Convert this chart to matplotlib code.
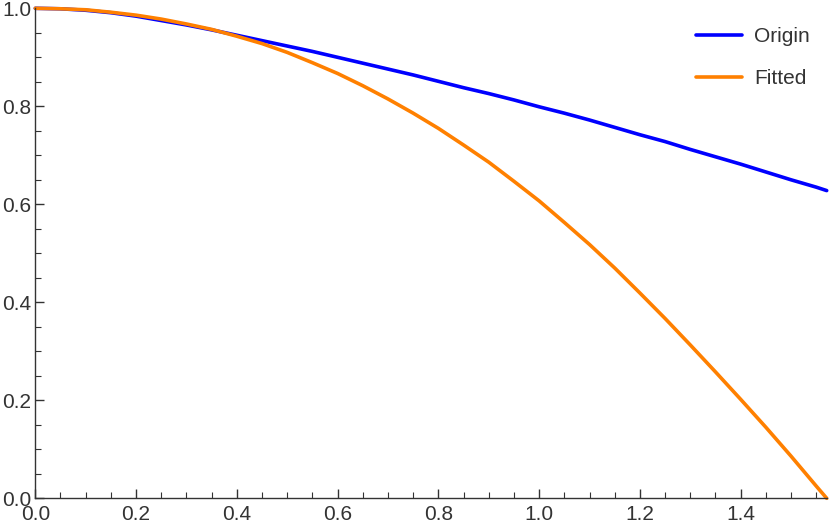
import numpy as np
import matplotlib
matplotlib.use('Agg')
import matplotlib.pyplot as plt
from matplotlib.ticker import MultipleLocator

plt.rcParams['font.family'] = ['Liberation Sans', 'DejaVu Sans']

# values (every 0.05 in x, last point at pi/2)
x_vals = [0.00, 0.05, 0.10, 0.15, 0.20, 0.25, 0.30, 0.35, 0.40, 0.45,
          0.50, 0.55, 0.60, 0.65, 0.70, 0.75, 0.80, 0.85, 0.90, 0.95,
          1.00, 1.05, 1.10, 1.15, 1.20, 1.25, 1.30, 1.35, 1.40, 1.45,
          1.50, 1.55, 1.5708]
origin_vals = [1.000, 0.999, 0.996, 0.991, 0.984, 0.975, 0.966, 0.956, 0.945, 0.934,
               0.923, 0.912, 0.900, 0.888, 0.876, 0.864, 0.851, 0.838, 0.826, 0.813,
               0.799, 0.786, 0.772, 0.757, 0.742, 0.728, 0.712, 0.697, 0.682, 0.666,
               0.650, 0.635, 0.628]
fitted_vals = [1.000, 0.999, 0.997, 0.992, 0.986, 0.978, 0.968, 0.957, 0.943, 0.928,
               0.910, 0.889, 0.867, 0.842, 0.815, 0.786, 0.755, 0.721, 0.686, 0.647,
               0.607, 0.563, 0.518, 0.470, 0.419, 0.367, 0.313, 0.258, 0.202, 0.145,
               0.086, 0.025, 0.000]
series_names = ['Origin', 'Fitted']
series_colors = ['#0000ff', '#ff8000']

x_ticks = [0.0, 0.2, 0.4, 0.6, 0.8, 1.0, 1.2, 1.4]
y_ticks = [0.0, 0.2, 0.4, 0.6, 0.8, 1.0]

gray = '#333333'

fig = plt.figure(figsize=(8.3, 5.27), dpi=100)
ax = fig.add_axes([35.3 / 830, 1 - 498.3 / 527, 791.4 / 830, 490 / 527])

for vals, name, col in zip([origin_vals, fitted_vals], series_names, series_colors):
    ax.plot(x_vals, vals, color=col, lw=2.6, label=name, solid_capstyle='round',
            solid_joinstyle='round', clip_on=False)

ax.set_xlim(0, x_vals[-1])
ax.set_ylim(0, 1)

for s in ['top', 'right']:
    ax.spines[s].set_visible(False)
for s in ['left', 'bottom']:
    ax.spines[s].set_color(gray)
    ax.spines[s].set_linewidth(1.0)

ax.set_xticks(x_ticks)
ax.set_yticks(y_ticks)
ax.set_xticklabels(['%.1f' % t for t in x_ticks])
ax.set_yticklabels(['%.1f' % t for t in y_ticks])
ax.xaxis.set_minor_locator(MultipleLocator(0.05))
ax.yaxis.set_minor_locator(MultipleLocator(0.05))
ax.tick_params(which='major', direction='in', length=6.7, width=1.0, color=gray,
               labelsize=15, labelcolor=gray, pad=3)
ax.tick_params(axis='x', which='major', pad=4.5)
ax.tick_params(which='minor', direction='in', length=4, width=0.8, color=gray)

leg = ax.legend(loc='upper right', bbox_to_anchor=(810 / 830, 1 - 27 / 527),
                bbox_transform=fig.transFigure, frameon=False, fontsize=15,
                handlelength=2.2, handletextpad=0.6, labelspacing=1.1,
                borderpad=0, borderaxespad=0)
for t in leg.get_texts():
    t.set_color(gray)
for h in leg.get_lines():
    h.set_linewidth(2.6)

fig.savefig('out.png', dpi=100)
